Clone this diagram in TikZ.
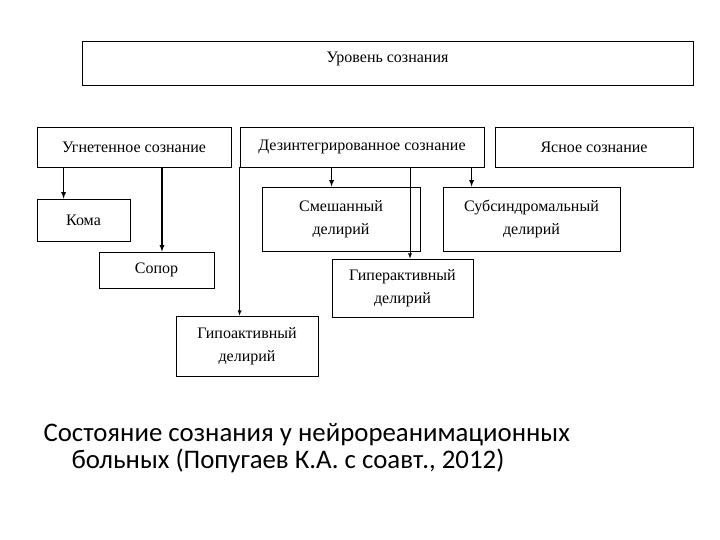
\documentclass[tikz,border=0pt]{standalone}
\usepackage{fontspec}
\setmainfont{Liberation Serif}
\newfontfamily\capfont{Carlito}
\begin{document}
\begin{tikzpicture}[x=1pt,y=-1pt,
  bx/.style={draw,line width=0.8pt,align=center,inner sep=0pt,font=\fontsize{16}{23}\selectfont},
  ar/.style={-latex,line width=1.2pt}]
\useasboundingbox (0,0) rectangle (720,540);
\draw[line width=0.8pt] (82,41) rectangle (693,85);
\node[font=\fontsize{16}{18}\selectfont] (top) at (387.5,59) {Уровень сознания};
\node[bx,minimum width=194,minimum height=40] (ug) at (134,147) {Угнетенное сознание};
\node[bx,minimum width=244,minimum height=40] (dz) at (362,147) {Дезинтегрированное сознание};
\node[bx,minimum width=198,minimum height=40] (ya) at (594,147) {Ясное сознание};
\node[bx,minimum width=93,minimum height=42] (ko) at (83.5,220) {Кома};
\node[bx,minimum width=115,minimum height=36] (so) at (156.5,270) {Сопор};
\node[bx,minimum width=158,minimum height=64] (sm) at (341,219) {Смешанный\\делирий};
\node[bx,minimum width=177,minimum height=64] (sb) at (531.5,219) {Субсиндромальный\\делирий};
\node[bx,minimum width=141,minimum height=58] (gp) at (402.5,288) {Гиперактивный\\делирий};
\node[bx,minimum width=142,minimum height=60] (go) at (247,346) {Гипоактивный\\делирий};
\draw[ar] (ug.south -| ko.north west) ++(27,0) coordinate (a1) -- (a1 |- ko.north);
\draw[ar] (ug.south -| so.north) ++(5.5,0) coordinate (a2) -- (a2 |- so.north);
\draw[ar] (dz.south -| sm.north west) ++(70,0) coordinate (a3) -- (a3 |- sm.north);
\draw[ar] (dz.south -| sb.north west) ++(29,0) coordinate (a4) -- (a4 |- sb.north);
\draw[-latex,line width=0.8pt] (dz.south -| gp.north) ++(7.5,0) coordinate (a5) -- (a5 |- gp.north);
\draw[-latex,line width=0.8pt] (dz.south west) ++(0,0) coordinate (a6) -- (a6 |- go.north);
\node[anchor=west,align=left,font=\capfont\fontsize{26.8}{27}\selectfont] (cap) at (40,448)
  {Состояние сознания у нейрореанимационных\\\hspace*{28pt}больных (Попугаев К.А. с соавт., 2012)};
\end{tikzpicture}
\end{document}
